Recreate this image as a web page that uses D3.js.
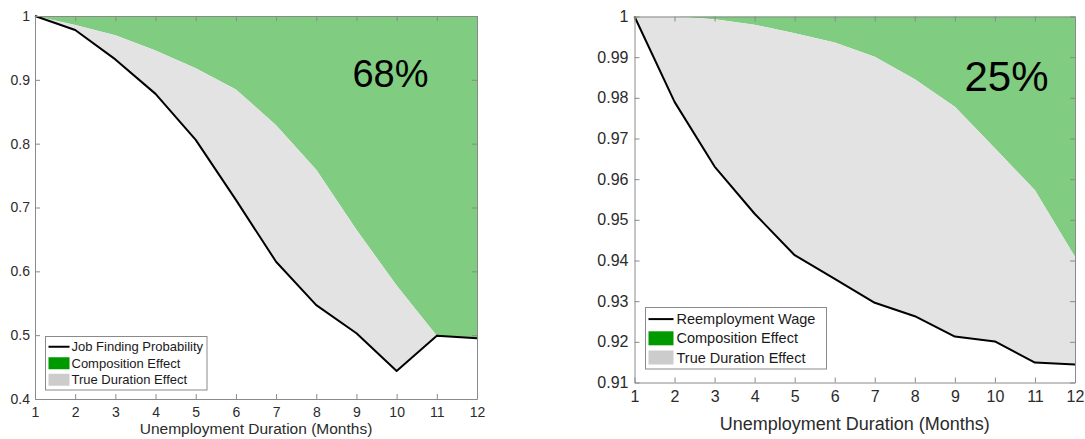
<!DOCTYPE html>
<html>
<head>
<meta charset="utf-8">
<script src="https://cdn.jsdelivr.net/npm/d3@7"></script>
<style>
  html, body { margin: 0; padding: 0; background: #fff; }
  svg { display: block; font-family: "Liberation Sans", Arial, sans-serif; }
</style>
</head>
<body>
<svg id="chart" width="1085" height="439"></svg>
<script>
// Unemployment duration in months (shared x values)
const months = [1, 2, 3, 4, 5, 6, 7, 8, 9, 10, 11, 12];

// Left panel: job finding probability and its true-duration counterpart
const jobFinding       = [1.000, 0.978, 0.932, 0.878, 0.806, 0.712, 0.615, 0.547, 0.503, 0.444, 0.499, 0.495];
const jobTrueDuration  = [1.000, 0.986, 0.970, 0.946, 0.918, 0.885, 0.829, 0.759, 0.665, 0.578, 0.499, 0.495];
const jobYTicks        = [0.4, 0.5, 0.6, 0.7, 0.8, 0.9, 1];
const jobYLabels       = ["0.4", "0.5", "0.6", "0.7", "0.8", "0.9", "1"];
const jobShare         = "68%";
const jobLegend        = ["Job Finding Probability", "Composition Effect", "True Duration Effect"];

// Right panel: reemployment wage and its true-duration counterpart
const wage             = [1.0000, 0.9790, 0.9631, 0.9515, 0.9413, 0.9355, 0.9296, 0.9263, 0.9213, 0.9201, 0.9149, 0.9144];
const wageTrueDuration = [1.0000, 1.0000, 0.9993, 0.9980, 0.9959, 0.9936, 0.9901, 0.9846, 0.9778, 0.9676, 0.9573, 0.9409];
const wageYTicks       = [0.91, 0.92, 0.93, 0.94, 0.95, 0.96, 0.97, 0.98, 0.99, 1];
const wageYLabels      = ["0.91", "0.92", "0.93", "0.94", "0.95", "0.96", "0.97", "0.98", "0.99", "1"];
const wageShare        = "25%";
const wageLegend       = ["Reemployment Wage", "Composition Effect", "True Duration Effect"];

const xTickLabels = months.map(String);
const xTitle = "Unemployment Duration (Months)";

const COLORS = {
  composition: "#80cc80",
  trueDuration: "#e3e3e3",
  legendComposition: "#009900",
  legendTrueDuration: "#cccccc",
  line: "#000000",
  axis: "#8a8a8a",
  text: "#2b2b2b"
};

const svg = d3.select("#chart");

function drawPanel(cfg) {
  const g = svg.append("g");
  const x = d3.scaleLinear().domain([1, 12]).range([cfg.left, cfg.right]);
  const y = d3.scaleLinear().domain(cfg.yDomain).range([cfg.bottom, cfg.top]);
  const pts = months.map((m, i) => ({ m, v: cfg.values[i], t: cfg.trueDur[i] }));

  // composition effect: from the counterfactual curve up to 1
  g.append("path")
    .datum(pts)
    .attr("fill", COLORS.composition)
    .attr("d", d3.area().x(d => x(d.m)).y0(d => y(d.t)).y1(() => y(1)));

  // true duration effect: between the observed curve and the counterfactual
  g.append("path")
    .datum(pts)
    .attr("fill", COLORS.trueDuration)
    .attr("d", d3.area().x(d => x(d.m)).y0(d => y(d.v)).y1(d => y(d.t)));

  // observed series
  g.append("path")
    .datum(pts)
    .attr("fill", "none")
    .attr("stroke", COLORS.line)
    .attr("stroke-width", 2)
    .attr("stroke-linejoin", "round")
    .attr("d", d3.line().x(d => x(d.m)).y(d => y(d.v)));

  const tick = 5;
  const styleAxis = sel => {
    sel.select(".domain").attr("stroke", COLORS.axis).attr("stroke-width", 1);
    sel.selectAll(".tick line").attr("stroke", COLORS.axis);
    sel.selectAll(".tick text").attr("fill", COLORS.text);
  };

  // box with inward ticks on all four sides
  g.append("g").attr("transform", `translate(0,${cfg.bottom})`)
    .call(d3.axisBottom(x).tickValues(months).tickFormat((d, i) => xTickLabels[i])
      .tickSizeInner(-tick).tickSizeOuter(0).tickPadding(cfg.xPad))
    .call(styleAxis)
    .call(s => s.selectAll(".tick text").attr("font-size", cfg.tickFont).attr("font-family", null));
  g.append("g").attr("transform", `translate(0,${cfg.top})`)
    .call(d3.axisTop(x).tickValues(months).tickFormat("").tickSizeInner(-tick).tickSizeOuter(0))
    .call(styleAxis);
  g.append("g").attr("transform", `translate(${cfg.left},0)`)
    .call(d3.axisLeft(y).tickValues(cfg.yTicks).tickFormat((d, i) => cfg.yLabels[i])
      .tickSizeInner(-tick).tickSizeOuter(0).tickPadding(cfg.yPad))
    .call(styleAxis)
    .call(s => s.selectAll(".tick text").attr("font-size", cfg.tickFont).attr("font-family", null));
  g.append("g").attr("transform", `translate(${cfg.right},0)`)
    .call(d3.axisRight(y).tickValues(cfg.yTicks).tickFormat("").tickSizeInner(-tick).tickSizeOuter(0))
    .call(styleAxis);

  // x axis title
  g.append("text")
    .attr("x", (cfg.left + cfg.right) / 2)
    .attr("y", cfg.titleY)
    .attr("text-anchor", "middle")
    .attr("font-size", cfg.titleFont)
    .attr("fill", COLORS.text)
    .text(xTitle);

  // share annotation
  g.append("text")
    .attr("x", cfg.shareX)
    .attr("y", cfg.shareY)
    .attr("text-anchor", "middle")
    .attr("font-size", cfg.shareFont)
    .attr("fill", "#000")
    .text(cfg.share);

  // legend
  const L = cfg.legend;
  const lg = g.append("g").attr("transform", `translate(${L.x},${L.y})`);
  lg.append("rect").attr("width", L.w).attr("height", L.h)
    .attr("fill", "#fff").attr("stroke", COLORS.axis).attr("stroke-width", 1);
  const rowY = i => L.pad + L.row * (i + 0.5);
  lg.append("line")
    .attr("x1", L.sx).attr("x2", L.sx + L.sw)
    .attr("y1", rowY(0)).attr("y2", rowY(0))
    .attr("stroke", COLORS.line).attr("stroke-width", 2);
  [COLORS.legendComposition, COLORS.legendTrueDuration].forEach((c, i) => {
    lg.append("rect")
      .attr("x", L.sx).attr("y", rowY(i + 1) - L.sh / 2)
      .attr("width", L.sw).attr("height", L.sh)
      .attr("fill", c);
  });
  cfg.legendLabels.forEach((t, i) => {
    lg.append("text")
      .attr("x", L.tx).attr("y", rowY(i))
      .attr("dy", "0.35em")
      .attr("font-size", L.font)
      .attr("fill", "#1a1a1a")
      .text(t);
  });
}

drawPanel({
  left: 35, right: 477, top: 16, bottom: 399,
  yDomain: [0.4, 1],
  values: jobFinding, trueDur: jobTrueDuration,
  yTicks: jobYTicks, yLabels: jobYLabels,
  tickFont: 14, xPad: 8, yPad: 5,
  titleY: 434, titleFont: 15.5,
  share: jobShare, shareX: 390.5, shareY: 87, shareFont: 38,
  legendLabels: jobLegend,
  legend: { x: 45.5, y: 336.5, w: 161.5, h: 53.5, pad: 2, row: 16.5, sx: 3, sw: 21, sh: 12, tx: 26, font: 13 }
});

drawPanel({
  left: 634.5, right: 1075, top: 16.5, bottom: 382.5,
  yDomain: [0.91, 1],
  values: wage, trueDur: wageTrueDuration,
  yTicks: wageYTicks, yLabels: wageYLabels,
  tickFont: 16, xPad: 8, yPad: 6,
  titleY: 430, titleFont: 18,
  share: wageShare, shareX: 1006.5, shareY: 90.5, shareFont: 42,
  legendLabels: wageLegend,
  legend: { x: 645.5, y: 307.5, w: 181, h: 61.5, pad: 2, row: 19.2, sx: 3, sw: 25, sh: 14, tx: 31, font: 14.5 }
});
</script>
</body>
</html>
